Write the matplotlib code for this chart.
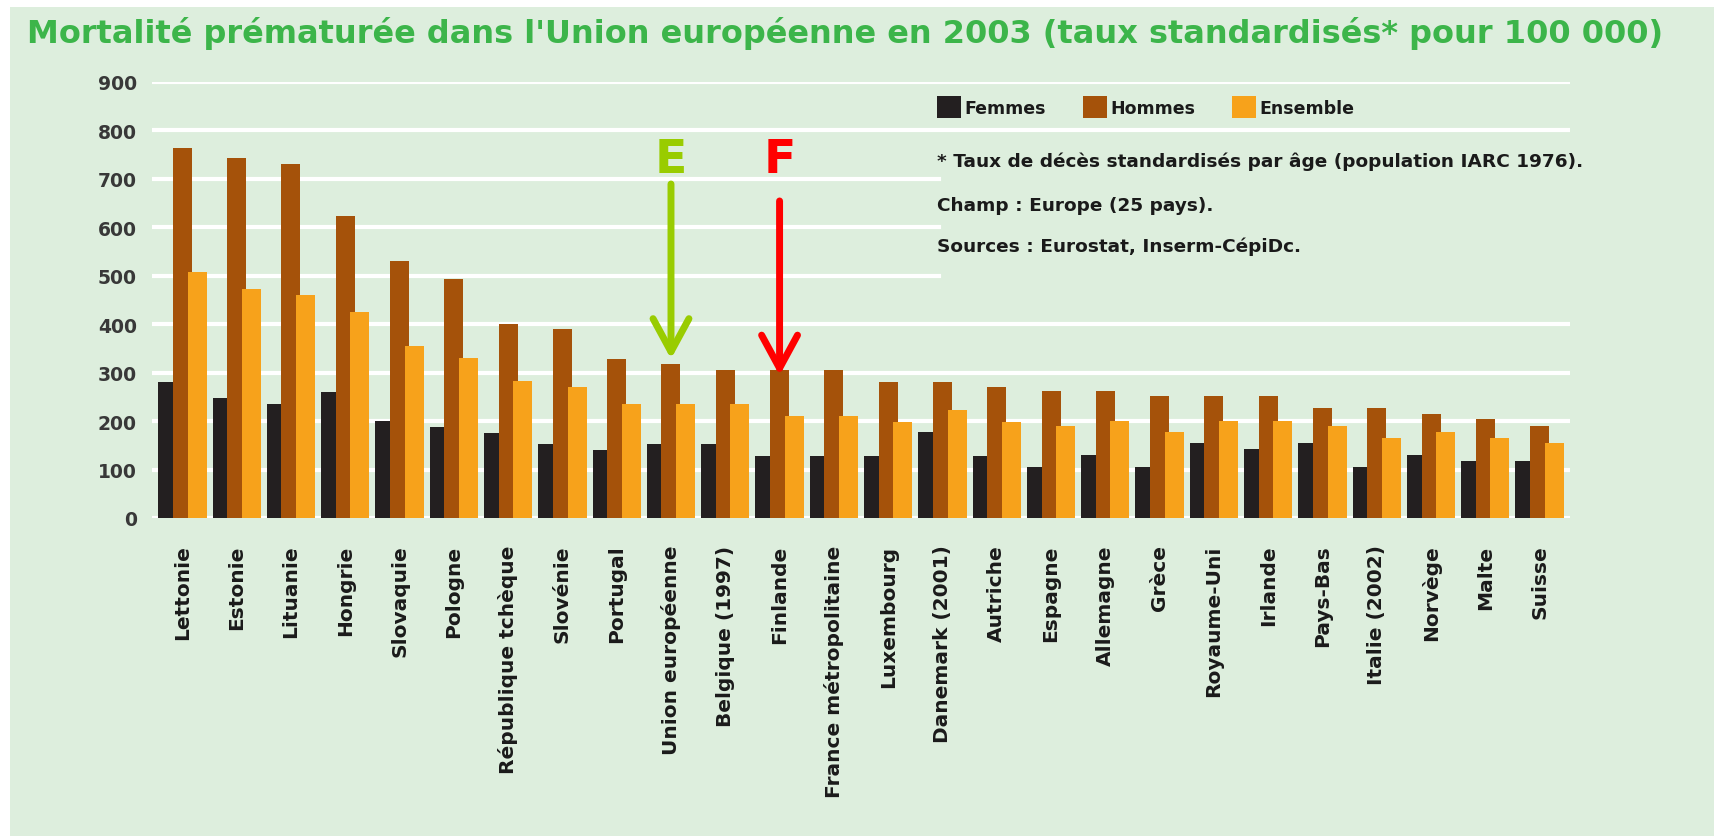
import numpy as np
import matplotlib
matplotlib.use("Agg")
import matplotlib.pyplot as plt
from matplotlib.patches import Rectangle

pays = ["Lettonie", "Estonie", "Lituanie", "Hongrie", "Slovaquie", "Pologne",
        "République tchèque", "Slovénie", "Portugal", "Union européenne",
        "Belgique (1997)", "Finlande", "France métropolitaine", "Luxembourg",
        "Danemark (2001)", "Autriche", "Espagne", "Allemagne", "Grèce",
        "Royaume-Uni", "Irlande", "Pays-Bas", "Italie (2002)", "Norvège",
        "Malte", "Suisse"]
femmes = [281, 247, 235, 259, 201, 188, 176, 153, 141, 153, 153, 128, 128,
          128, 177, 128, 105, 130, 105, 154, 142, 154, 105, 130, 117, 117]
hommes = [764, 742, 730, 623, 531, 494, 400, 389, 329, 318, 306, 306, 306,
          281, 281, 270, 262, 262, 251, 251, 251, 227, 227, 215, 204, 189]
ensemble = [507, 472, 460, 424, 354, 330, 282, 271, 235, 235, 235, 211, 211,
            199, 223, 199, 189, 201, 178, 201, 201, 189, 166, 178, 166, 154]
yticks = list(range(0, 1000, 100))

titre = "Mortalité prématurée dans l'Union européenne en 2003 (taux standardisés* pour 100 000)"
notes = ["* Taux de décès standardisés par âge (population IARC 1976).",
         "Champ : Europe (25 pays).",
         "Sources : Eurostat, Inserm-CépiDc."]

bg = "#ddeedd"
c_f, c_h, c_e = "#231f20", "#a5520a", "#f7a21b"

W, H = 1715, 837
fig = plt.figure(figsize=(W / 100, H / 100), dpi=100)
fig.patch.set_facecolor("white")
fig.patches.append(Rectangle((10 / W, 0), 1, 1 - 8 / H, transform=fig.transFigure,
                             facecolor=bg, edgecolor="none", zorder=-10))

ax = fig.add_axes([152 / W, 1 - 519 / H, 1418 / W, (519 - 82.7) / H])
ax.set_facecolor("none")

x = np.arange(len(pays))
w, off = 0.35, 0.27
ax.bar(x - off, femmes, w, color=c_f, zorder=3, label="Femmes")
ax.bar(x, hommes, w, color=c_h, zorder=4, label="Hommes")
ax.bar(x + off, ensemble, w, color=c_e, zorder=5, label="Ensemble")

# gridlines, the upper ones cut by the notes box
for v in yticks:
    xmax = 0.555 if v in (500, 600, 700) else 1
    ax.axhline(v, xmin=0, xmax=xmax, color="white", lw=3, zorder=1)

ax.set_xlim(-0.56, len(pays) - 1 + 0.56)
ax.set_ylim(0, 900)
ax.set_yticks(yticks)
ax.set_yticklabels([str(v) for v in yticks], fontsize=13.5, fontweight="bold", color="#383838")
ax.set_xticks(x)
ax.set_xticklabels(pays, rotation=90, fontsize=14.5, fontweight="bold", color="#1a1a1a",
                   va="top", ha="center")
ax.tick_params(axis="y", length=0, pad=11)
ax.tick_params(axis="x", length=0, pad=19)
for s in ax.spines.values():
    s.set_visible(False)

fig.text(27 / W, 1 - 33 / H, titre, fontsize=23, fontweight="bold", color="#3cb54a",
         va="center", ha="left")

leg = fig.legend(loc="center left", bbox_to_anchor=(937 / W, 1 - 108 / H), ncol=3,
                 frameon=False, handlelength=1.4, handleheight=1.5, handletextpad=0.2,
                 columnspacing=2.1, borderaxespad=0, borderpad=0,
                 prop={"size": 12.5, "weight": "bold"})
for t in leg.get_texts():
    t.set_color("#1a1a1a")

for ypix, txt in zip([162, 206, 247], notes):
    fig.text(937 / W, 1 - ypix / H, txt, fontsize=13.3, fontweight="bold",
             color="#1a1a1a", va="center", ha="left")

# E and F arrows
i_e = pays.index("Union européenne")
i_f = pays.index("Finlande")
ax.text(i_e, 740, "E", fontsize=34, fontweight="bold", color="#99cc00",
        ha="center", va="center", zorder=6)
ax.annotate("", xy=(i_e, hommes[i_e] + 10), xytext=(i_e, 689),
            arrowprops=dict(arrowstyle="->,head_length=0.7,head_width=0.38",
                            lw=5, color="#99cc00", mutation_scale=34,
                            shrinkA=0, shrinkB=0), zorder=6)
ax.text(i_f, 740, "F", fontsize=34, fontweight="bold", color="#ff0000",
        ha="center", va="center", zorder=6)
ax.annotate("", xy=(i_f, hommes[i_f] - 12), xytext=(i_f, 654),
            arrowprops=dict(arrowstyle="->,head_length=0.7,head_width=0.38",
                            lw=5, color="#ff0000", mutation_scale=34,
                            shrinkA=0, shrinkB=0), zorder=6)

fig.savefig("out.png", dpi=100, facecolor=fig.get_facecolor())
